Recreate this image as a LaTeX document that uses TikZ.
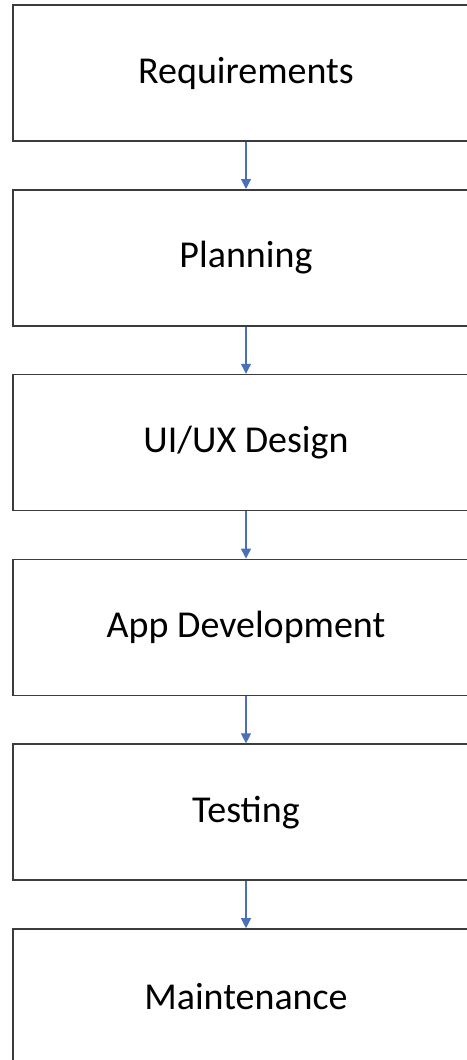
\documentclass[tikz,border=0pt]{standalone}
\usepackage{fontspec}
\setmainfont{Carlito}
\usepackage{xcolor}
\usetikzlibrary{arrows.meta, positioning}
\definecolor{myblue}{RGB}{74, 112, 186}
\definecolor{mygray}{RGB}{60, 60, 60}

\begin{document}
\begin{tikzpicture}[
    x=1pt, y=1pt,
    node distance=47.2pt,
    stage/.style={rectangle, draw=mygray, line width=1.6pt, minimum width=466pt, minimum height=136pt, text centered, font=\fontsize{38pt}{46pt}\selectfont},
    arrow/.style={draw=myblue, line width=1.1pt, ->, >={Stealth[length=10pt, width=10pt, inset=0pt]}}
]
\useasboundingbox (0,0) rectangle (466,-1060);

% Stages
\node[stage] (req) at (246,-73) {Requirements};
\node[stage, below=of req] (plan) {Planning};
\node[stage, below=of plan] (design) {UI/UX Design};
\node[stage, below=of design] (dev) {App Development};
\node[stage, below=of dev] (test) {Testing};
\node[stage, below=of test] (maint) {Maintenance};

% Arrows
\draw[arrow] (req) -- (plan);
\draw[arrow] (plan) -- (design);
\draw[arrow] (design) -- (dev);
\draw[arrow] (dev) -- (test);
\draw[arrow] (test) -- (maint);

\end{tikzpicture}
\end{document}
